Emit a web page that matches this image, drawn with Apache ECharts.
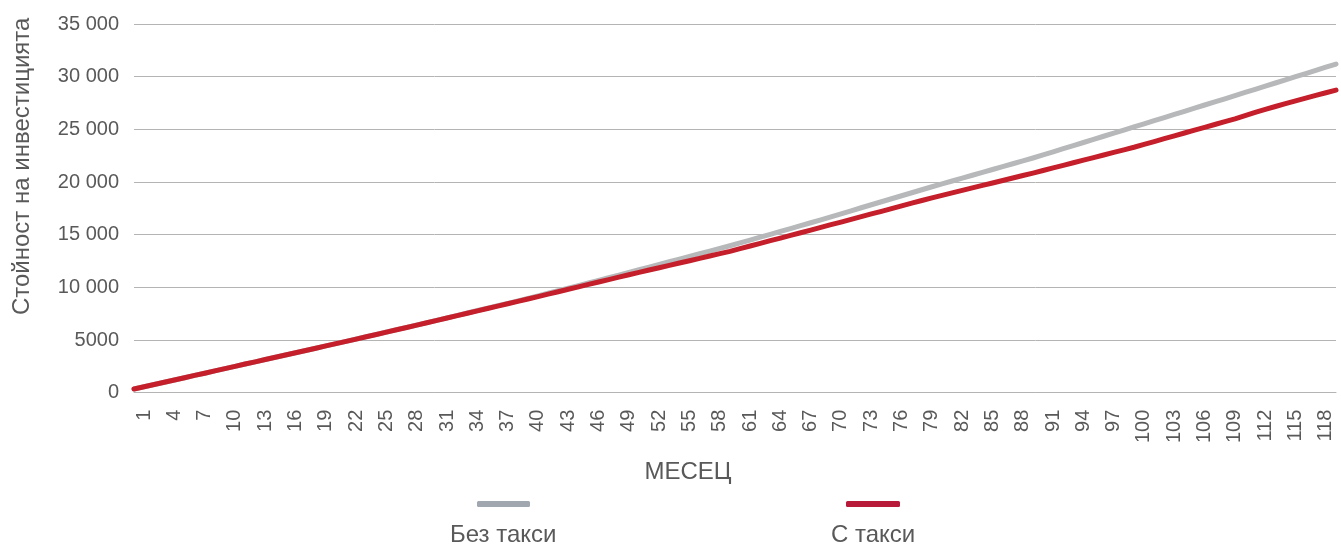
<!DOCTYPE html>
<html>
<head>
<meta charset="utf-8">
<script src="https://cdn.jsdelivr.net/npm/echarts@6/dist/echarts.min.js"></script>
<style>
html,body{margin:0;padding:0;background:#fff;}
#chart{width:1341px;height:544px;}
</style>
</head>
<body>
<div id="chart"></div>
<script>
// Months 1..120
const months = Array.from({length: 120}, (_, i) => String(i + 1));

const seriesNames = ['Без такси', 'С такси'];

// Value of the investment without fees
const noFees = [
  350, 560, 775, 995, 1205, 1425, 1640, 1850, 2075, 2290,
  2500, 2720, 2930, 3150, 3360, 3580, 3790, 4010, 4220, 4440,
  4660, 4875, 5100, 5320, 5540, 5760, 5985, 6200, 6430, 6650,
  6880, 7105, 7340, 7565, 7800, 8025, 8260, 8485, 8720, 8950,
  9190, 9440, 9680, 9930, 10170, 10420, 10670, 10920, 11165, 11420,
  11670, 11925, 12175, 12430, 12680, 12935, 13190, 13440, 13700, 13950,
  14220, 14490, 14765, 15035, 15310, 15580, 15860, 16135, 16415, 16700,
  16985, 17270, 17555, 17840, 18125, 18410, 18695, 18980, 19265, 19550,
  19820, 20095, 20370, 20640, 20915, 21190, 21460, 21735, 22005, 22280,
  22575, 22870, 23160, 23460, 23750, 24050, 24345, 24640, 24935, 25230,
  25525, 25825, 26120, 26415, 26715, 27010, 27310, 27605, 27900, 28200,
  28500, 28800, 29100, 29400, 29700, 30000, 30300, 30600, 30900, 31200
];

// Value of the investment with fees
const withFees = [
  350, 560, 775, 995, 1205, 1425, 1640, 1850, 2075, 2290,
  2500, 2720, 2930, 3150, 3360, 3580, 3790, 4010, 4220, 4440,
  4655, 4870, 5090, 5310, 5530, 5750, 5970, 6190, 6410, 6640,
  6860, 7090, 7315, 7540, 7770, 7990, 8220, 8445, 8670, 8900,
  9125, 9355, 9585, 9815, 10045, 10280, 10510, 10740, 10970, 11200,
  11420, 11645, 11865, 12090, 12310, 12530, 12755, 12975, 13200, 13420,
  13670, 13925, 14175, 14430, 14680, 14935, 15185, 15440, 15695, 15950,
  16200, 16460, 16710, 16970, 17220, 17480, 17735, 17990, 18245, 18500,
  18735, 18970, 19205, 19440, 19675, 19910, 20145, 20380, 20615, 20850,
  21095, 21340, 21585, 21830, 22075, 22320, 22565, 22810, 23055, 23300,
  23570, 23840, 24110, 24380, 24650, 24920, 25190, 25460, 25730, 26000,
  26300, 26600, 26890, 27170, 27440, 27700, 27960, 28220, 28470, 28720
];

const yTicks = {min: 0, max: 35000, interval: 5000};

const FONT = '"Liberation Sans", Arial, sans-serif';
const TXT = '#595959';
const GREY = '#b6b8b9';
const RED = '#c41f2b';

function fmtY(v) {
  const s = String(v);
  return v >= 10000 ? s.replace(/\B(?=(\d{3})+(?!\d))/g, ' ') : s;
}

const chart = echarts.init(document.getElementById('chart'), null, {renderer: 'canvas'});
chart.setOption({
  animation: false,
  backgroundColor: '#ffffff',
  textStyle: {fontFamily: FONT},
  grid: {left: 134, right: 5, top: 24, bottom: 151.3, containLabel: false},
  legend: [
    {
      data: [{name: seriesNames[0], itemStyle: {color: '#a1a7ae'}}],
      left: 477, top: 501, padding: 0, itemWidth: 53, itemHeight: 6,
      icon: 'roundRect', formatter: () => '', textStyle: {fontSize: 1}
    },
    {
      data: [{name: seriesNames[1], itemStyle: {color: '#b81b3a'}}],
      left: 846, top: 501, padding: 0, itemWidth: 54, itemHeight: 6,
      icon: 'roundRect', formatter: () => '', textStyle: {fontSize: 1}
    },
    {
      data: [seriesNames[0]],
      left: 445, top: 523, padding: 0, itemWidth: 0, itemHeight: 24,
      icon: 'none',
      textStyle: {fontSize: 24, color: TXT, fontFamily: FONT}
    },
    {
      data: [seriesNames[1]],
      left: 826, top: 523, padding: 0, itemWidth: 0, itemHeight: 24,
      icon: 'none',
      textStyle: {fontSize: 24, color: TXT, fontFamily: FONT}
    }
  ],
  xAxis: {
    type: 'category',
    data: months,
    boundaryGap: false,
    name: 'МЕСЕЦ',
    nameLocation: 'middle',
    nameGap: 68,
    nameTextStyle: {fontSize: 24, color: TXT, fontFamily: FONT, padding: [0, 94, 0, 0]},
    axisLine: {show: true, lineStyle: {color: '#b4b4b4', width: 1}},
    axisTick: {show: false},
    axisLabel: {
      interval: 2, rotate: 90, margin: 17,
      fontSize: 20, color: TXT, fontFamily: FONT,
      verticalAlign: 'top'
    },
    splitLine: {show: false}
  },
  yAxis: {
    type: 'value',
    min: yTicks.min, max: yTicks.max, interval: yTicks.interval,
    name: 'Стойност на инвестицията',
    nameLocation: 'middle',
    nameGap: 100,
    nameTextStyle: {fontSize: 24, color: TXT, fontFamily: FONT, padding: [0, 0, 0, 84]},
    axisLine: {show: false},
    axisTick: {show: false},
    axisLabel: {margin: 15, fontSize: 20, color: TXT, fontFamily: FONT, formatter: fmtY},
    splitLine: {show: true, lineStyle: {color: '#b4b4b4', width: 1}}
  },
  series: [
    {
      name: seriesNames[0], type: 'line', data: noFees,
      showSymbol: false, symbol: 'none', smooth: false,
      lineStyle: {color: GREY, width: 5, cap: 'round', join: 'round'},
      itemStyle: {color: GREY}, z: 2
    },
    {
      name: seriesNames[1], type: 'line', data: withFees,
      showSymbol: false, symbol: 'none', smooth: false,
      lineStyle: {color: RED, width: 5, cap: 'round', join: 'round'},
      itemStyle: {color: RED}, z: 3
    }
  ]
});
</script>
</body>
</html>
